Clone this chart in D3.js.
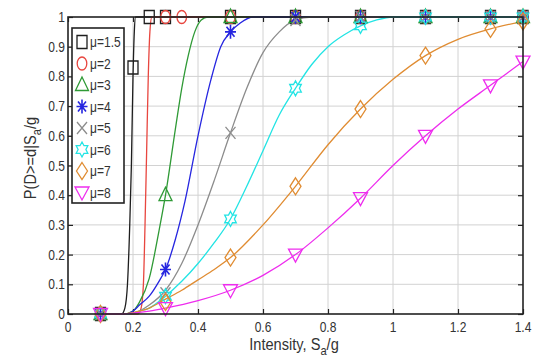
<!DOCTYPE html>
<html>
<head>
<meta charset="utf-8">
<script src="https://cdn.jsdelivr.net/npm/d3@7"></script>
<style>
  body { margin: 0; background: #fff; }
  svg { display: block; }
  text { font-family: "Liberation Sans", Arial, sans-serif; fill: #333; }
</style>
</head>
<body>
<div id="chart"></div>
<script>
// values
const mus = ["1.5", "2", "3", "4", "5", "6", "7", "8"]
const colors = ["#1e1e1e", "#e8463f", "#2f9a36", "#2626e0", "#8c8c8c", "#22e4e4", "#e08c32", "#ee2cee"]
const symbols = ["square", "circle", "triangle", "asterisk", "cross", "hexagram", "diamond", "triangleDown"]

const xTicks = [0, 0.2, 0.4, 0.6, 0.8, 1, 1.2, 1.4]
const yTicks = [0, 0.1, 0.2, 0.3, 0.4, 0.5, 0.6, 0.7, 0.8, 0.9, 1]

const curve15 = [[0.1,0],[0.165,0],[0.175,0.02],[0.183,0.1],[0.19,0.3],[0.195,0.5],[0.2,0.8],[0.204,0.95],[0.208,1],[1.4,1]]
const curve2 = [[0.1,0],[0.215,0],[0.225,0.02],[0.232,0.1],[0.237,0.3],[0.242,0.55],[0.247,0.8],[0.252,0.95],[0.258,1],[1.4,1]]
const curve3 = [[0.1,0],[0.17,0],[0.2,0.01],[0.22,0.04],[0.25,0.12],[0.28,0.28],[0.3,0.4],[0.33,0.62],[0.35,0.76],[0.37,0.87],[0.39,0.95],[0.41,0.99],[0.43,1],[1.4,1]]
const curve4 = [[0.1,0],[0.18,0],[0.2,0.01],[0.22,0.03],[0.25,0.06],[0.28,0.11],[0.3,0.15],[0.33,0.25],[0.36,0.38],[0.4,0.6],[0.44,0.79],[0.47,0.9],[0.5,0.95],[0.53,0.98],[0.57,1],[1.4,1]]
const curve5 = [[0.1,0],[0.18,0],[0.22,0.01],[0.25,0.03],[0.3,0.08],[0.35,0.17],[0.4,0.3],[0.45,0.45],[0.5,0.61],[0.55,0.76],[0.6,0.88],[0.65,0.95],[0.7,0.99],[0.75,1],[1.4,1]]
const curve6 = [[0.1,0],[0.18,0],[0.22,0.01],[0.25,0.02],[0.3,0.06],[0.35,0.11],[0.4,0.17],[0.45,0.24],[0.5,0.32],[0.55,0.43],[0.6,0.55],[0.65,0.67],[0.7,0.76],[0.75,0.84],[0.8,0.9],[0.85,0.94],[0.9,0.97],[0.95,0.99],[1.0,1],[1.4,1]]
const curve7 = [[0.1,0],[0.17,0],[0.2,0.005],[0.25,0.02],[0.3,0.05],[0.35,0.08],[0.4,0.115],[0.45,0.15],[0.5,0.19],[0.6,0.3],[0.7,0.43],[0.8,0.57],[0.9,0.69],[1.0,0.79],[1.1,0.87],[1.2,0.925],[1.3,0.96],[1.4,0.985]]
const curve8 = [[0.1,0],[0.17,0],[0.2,0.003],[0.25,0.01],[0.3,0.02],[0.4,0.045],[0.5,0.08],[0.6,0.13],[0.7,0.2],[0.8,0.29],[0.9,0.39],[1.0,0.5],[1.1,0.6],[1.2,0.69],[1.3,0.77],[1.4,0.85]]

const markX = [0.1, 0.3, 0.5, 0.7, 0.9, 1.1, 1.3, 1.4]
const mark15X = [0.1, 0.2, 0.25, 0.3, 0.5, 0.7, 0.9, 1.1, 1.3, 1.4]
const mark15Y = [0, 0.83, 1, 1, 1, 1, 1, 1, 1, 1]
const mark2X = [0.1, 0.3, 0.35, 0.5, 0.7, 0.9, 1.1, 1.3, 1.4]
const mark2Y = [0, 1, 1, 1, 1, 1, 1, 1, 1]
const mark3Y = [0, 0.4, 1, 1, 1, 1, 1, 1]
const mark4Y = [0, 0.15, 0.95, 1, 1, 1, 1, 1]
const mark5Y = [0, 0.07, 0.61, 0.99, 1, 1, 1, 1]
const mark6Y = [0, 0.06, 0.32, 0.76, 0.97, 1, 1, 1]
const mark7Y = [0, 0.04, 0.19, 0.43, 0.69, 0.87, 0.96, 0.985]
const mark8Y = [0, 0.02, 0.08, 0.2, 0.39, 0.6, 0.77, 0.85]

const curves = [curve15, curve2, curve3, curve4, curve5, curve6, curve7, curve8]
const markers = [
  d3.zip(mark15X, mark15Y), d3.zip(mark2X, mark2Y),
  d3.zip(markX, mark3Y), d3.zip(markX, mark4Y), d3.zip(markX, mark5Y),
  d3.zip(markX, mark6Y), d3.zip(markX, mark7Y), d3.zip(markX, mark8Y)
]

const width = 542
const height = 361
const margin = { left: 68, right: 19, top: 17, bottom: 47 }
const squeeze = 0.86

const svg = d3.select("#chart").append("svg")
  .attr("width", width)
  .attr("height", height)

const x = d3.scaleLinear().domain([0, 1.4]).range([margin.left, width - margin.right])
const y = d3.scaleLinear().domain([0, 1]).range([height - margin.bottom, margin.top])

// grid
const grid = svg.append("g").attr("stroke", "#d2d2d2").attr("stroke-width", 1)
grid.selectAll(".gx").data(xTicks.slice(1, -1)).enter().append("line")
  .attr("x1", d => x(d)).attr("x2", d => x(d))
  .attr("y1", y(0)).attr("y2", y(1))
grid.selectAll(".gy").data(yTicks.slice(1, -1)).enter().append("line")
  .attr("y1", d => y(d)).attr("y2", d => y(d))
  .attr("x1", x(0)).attr("x2", x(1.4))

// axes with inward ticks on all four sides
const axisStyle = g => {
  g.select(".domain").remove()
  g.selectAll("line").attr("stroke", "#222").attr("stroke-width", 1.2)
  g.selectAll("text").remove()
}
svg.append("g").attr("transform", `translate(0,${y(0)})`)
  .call(d3.axisBottom(x).tickValues(xTicks).tickSize(-5)).call(axisStyle)
svg.append("g").attr("transform", `translate(0,${y(1)})`)
  .call(d3.axisTop(x).tickValues(xTicks).tickSize(-5)).call(axisStyle)
svg.append("g").attr("transform", `translate(${x(0)},0)`)
  .call(d3.axisLeft(y).tickValues(yTicks).tickSize(-5)).call(axisStyle)
svg.append("g").attr("transform", `translate(${x(1.4)},0)`)
  .call(d3.axisRight(y).tickValues(yTicks).tickSize(-5)).call(axisStyle)

const fmt = d3.format("~g")

svg.append("g").selectAll("text").data(xTicks).enter().append("text")
  .attr("transform", d => `translate(${x(d)},${y(0) + 18}) scale(${squeeze},1)`)
  .attr("text-anchor", "middle")
  .attr("font-size", 14)
  .text(fmt)

svg.append("g").selectAll("text").data(yTicks).enter().append("text")
  .attr("transform", d => `translate(${x(0) - 3},${y(d) + 5}) scale(${squeeze},1)`)
  .attr("text-anchor", "end")
  .attr("font-size", 14)
  .text(fmt)

// curves
const line = d3.line()
  .x(d => x(d[0]))
  .y(d => y(d[1]))
  .curve(d3.curveMonotoneX)

svg.append("g").selectAll("path").data(curves).enter().append("path")
  .attr("d", line)
  .attr("fill", "none")
  .attr("stroke", (d, i) => colors[i])
  .attr("stroke-width", 1.3)

// marker shapes, drawn around (0,0)
function markerPath(sym) {
  const p = d3.path()
  if (sym === "square") {
    p.rect(-5, -6.5, 10, 13)
  } else if (sym === "circle") {
    p.ellipse ? p.ellipse(0, 0, 4.8, 6.5, 0, 0, 2 * Math.PI) : null
  } else if (sym === "triangle") {
    p.moveTo(0, -8); p.lineTo(6.5, 5.5); p.lineTo(-6.5, 5.5); p.closePath()
  } else if (sym === "triangleDown") {
    p.moveTo(-7, -5.5); p.lineTo(7, -5.5); p.lineTo(0, 7.5); p.closePath()
  } else if (sym === "diamond") {
    p.moveTo(0, -8.5); p.lineTo(5.5, 0); p.lineTo(0, 8.5); p.lineTo(-5.5, 0); p.closePath()
  } else if (sym === "cross") {
    p.moveTo(-5, -6); p.lineTo(5, 6); p.moveTo(5, -6); p.lineTo(-5, 6)
  } else if (sym === "asterisk") {
    p.moveTo(0, -7); p.lineTo(0, 7); p.moveTo(-5.5, 0); p.lineTo(5.5, 0)
    p.moveTo(-4, -5); p.lineTo(4, 5); p.moveTo(4, -5); p.lineTo(-4, 5)
  } else if (sym === "hexagram") {
    p.moveTo(0, -7.5); p.lineTo(2, -3.8); p.lineTo(5.8, -3.8); p.lineTo(3.9, 0)
    p.lineTo(5.8, 3.8); p.lineTo(2, 3.8); p.lineTo(0, 7.5); p.lineTo(-2, 3.8)
    p.lineTo(-5.8, 3.8); p.lineTo(-3.9, 0); p.lineTo(-5.8, -3.8); p.lineTo(-2, -3.8)
    p.closePath()
  }
  return p.toString()
}

function ellipsePath(rx, ry) {
  return `M${-rx},0A${rx},${ry} 0 1,0 ${rx},0A${rx},${ry} 0 1,0 ${-rx},0Z`
}

function shape(sym) {
  return sym === "circle" ? ellipsePath(4.8, 6.5) : markerPath(sym)
}

markers.forEach((pts, i) => {
  svg.append("g").selectAll("path").data(pts).enter().append("path")
    .attr("transform", d => `translate(${x(d[0])},${y(d[1])})`)
    .attr("d", shape(symbols[i]))
    .attr("fill", "none")
    .attr("stroke", colors[i])
    .attr("stroke-width", symbols[i] === "asterisk" ? 1.6 : 1.3)
})

// frame
svg.append("rect")
  .attr("x", x(0)).attr("y", y(1))
  .attr("width", x(1.4) - x(0)).attr("height", y(0) - y(1))
  .attr("fill", "none").attr("stroke", "#222").attr("stroke-width", 1.6)

// legend
const legend = svg.append("g")
legend.append("rect")
  .attr("x", 72).attr("y", 28).attr("width", 52).attr("height", 175)
  .attr("fill", "#fff").attr("stroke", "#222").attr("stroke-width", 1.6)

mus.forEach((m, i) => {
  const row = legend.append("g").attr("transform", `translate(82,${42 + i * 21.5})`)
  row.append("path")
    .attr("d", shape(symbols[i]))
    .attr("fill", "none")
    .attr("stroke", colors[i])
    .attr("stroke-width", symbols[i] === "asterisk" ? 1.6 : 1.3)
  row.append("text")
    .attr("transform", `translate(8,5) scale(${squeeze},1)`)
    .attr("font-size", 14)
    .text("μ=" + m)
})

// axis titles
const xt = svg.append("text")
  .attr("transform", `translate(294,350) scale(${squeeze},1)`)
  .attr("text-anchor", "middle")
  .attr("font-size", 17)
xt.append("tspan").text("Intensity, S")
xt.append("tspan").attr("font-size", 13).attr("dy", 5).text("a")
xt.append("tspan").attr("dy", -5).text("/g")

const yt = svg.append("text")
  .attr("transform", `translate(36,158) rotate(-90) scale(${squeeze},1)`)
  .attr("text-anchor", "middle")
  .attr("font-size", 17)
yt.append("tspan").text("P(D>=d|S")
yt.append("tspan").attr("font-size", 13).attr("dy", 5).text("a")
yt.append("tspan").attr("dy", -5).text("/g")
</script>
</body>
</html>
